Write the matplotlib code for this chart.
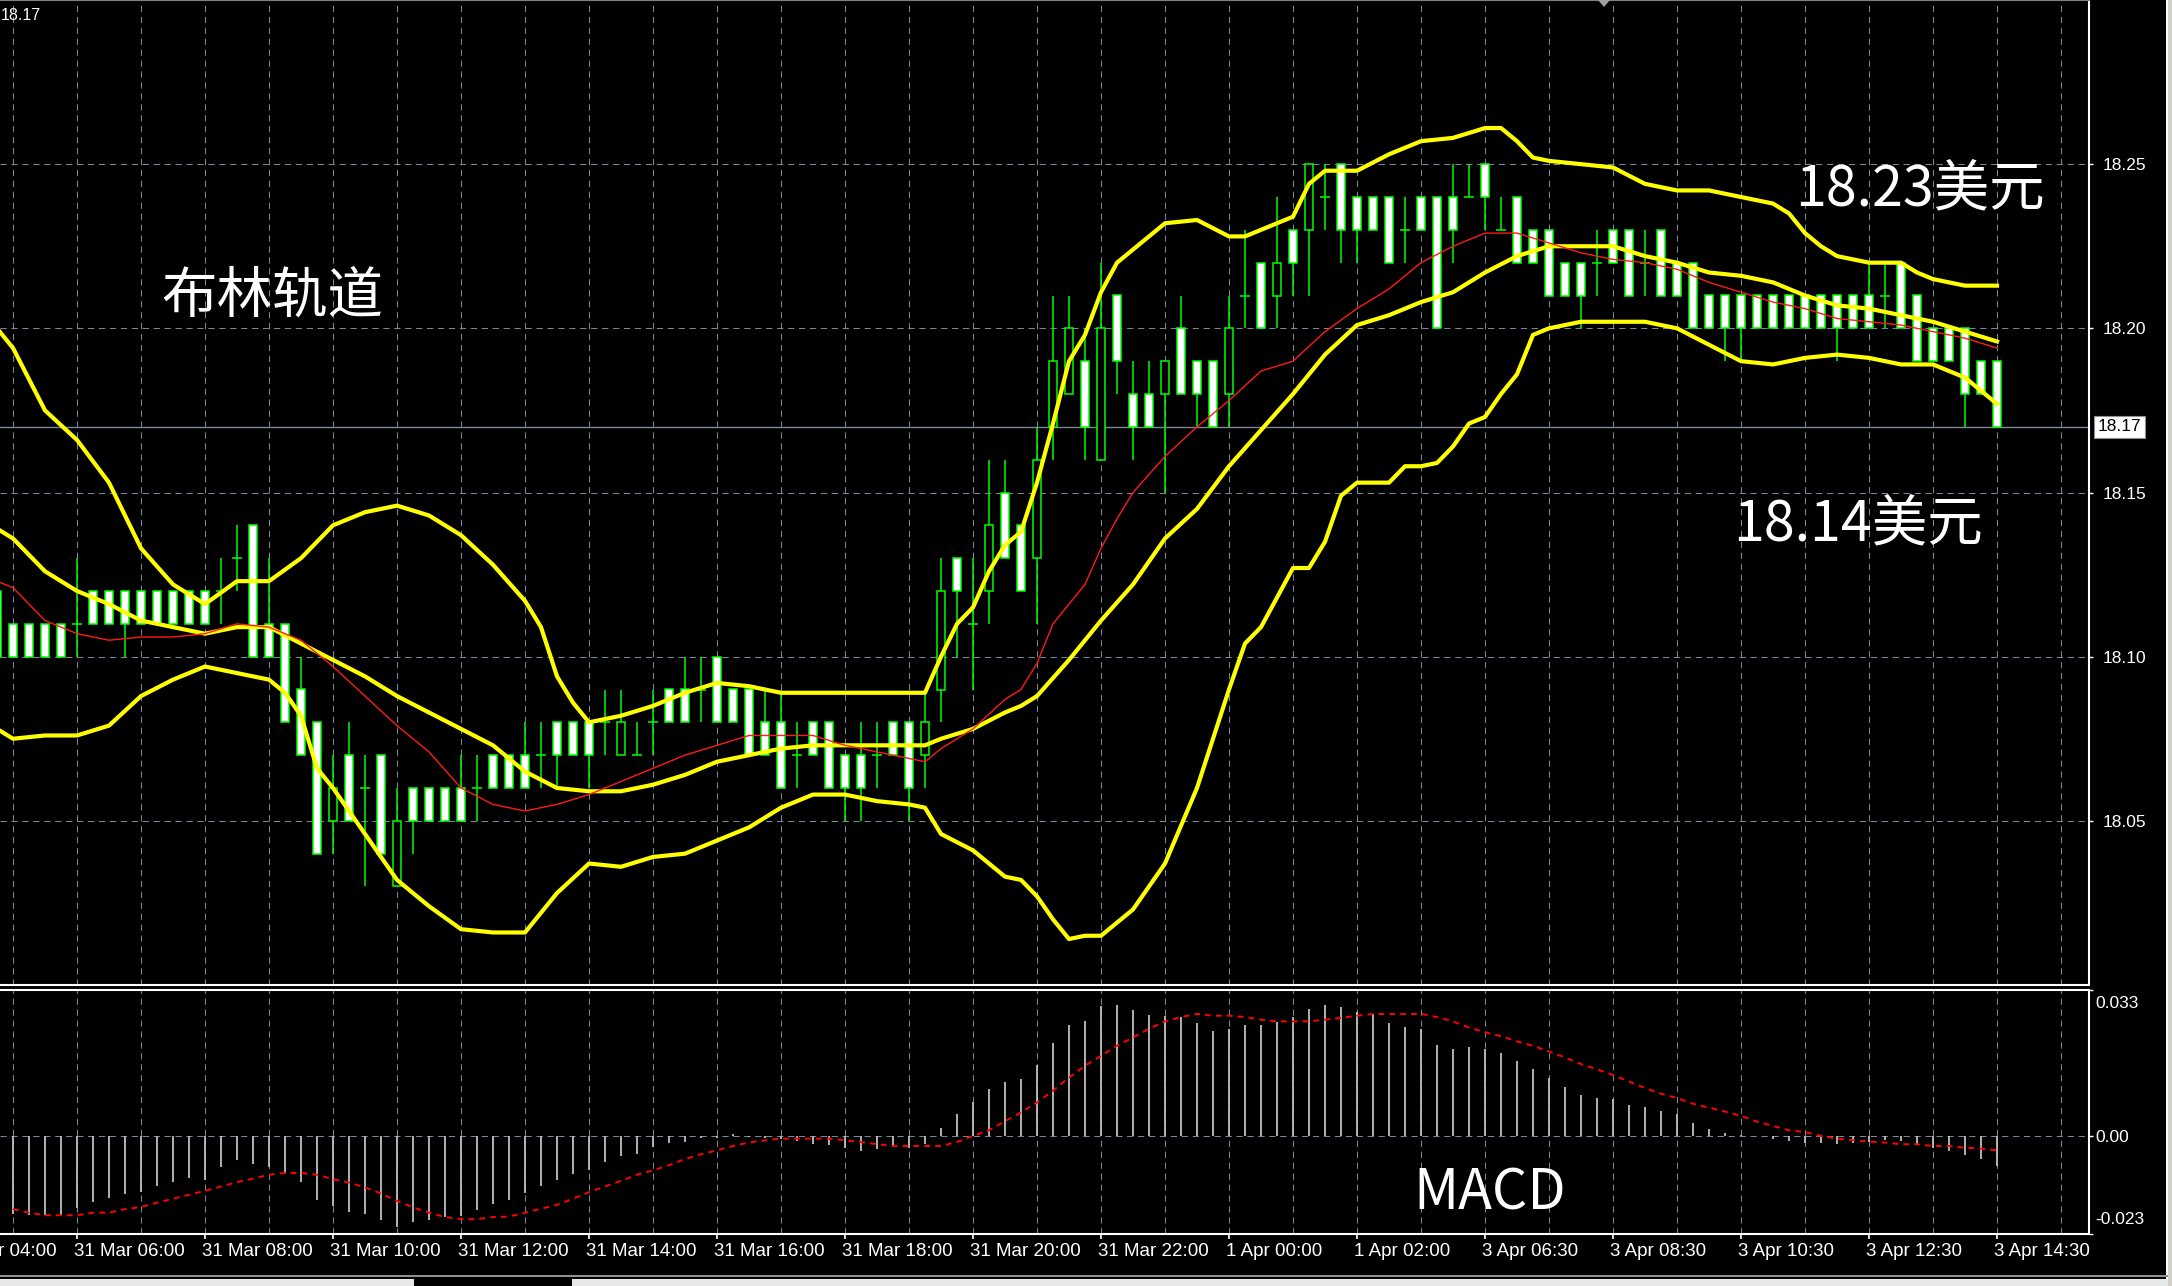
import numpy as np
import matplotlib.pyplot as plt
from matplotlib.patches import Rectangle, Polygon

# ---------------- data (15 min bars) ----------------
first_bar = -1  # index of the first (partly hidden) bar

opens = [
    18.12, 18.11, 18.11, 18.11, 18.11, 18.11, 18.12, 18.12, 18.12, 18.12,   # -1..8
    18.12, 18.12, 18.12, 18.12, 18.12, 18.13, 18.14, 18.11, 18.11, 18.09,   # 9..18
    18.08, 18.05, 18.07, 18.06, 18.07, 18.03, 18.06, 18.06, 18.06, 18.06,   # 19..28
    18.06, 18.07, 18.07, 18.07, 18.07, 18.08, 18.08, 18.08, 18.08, 18.07,   # 29..38
    18.07, 18.08, 18.09, 18.09, 18.09, 18.10, 18.09, 18.09, 18.08, 18.08,   # 39..48
    18.07, 18.08, 18.08, 18.07, 18.07, 18.07, 18.08, 18.08, 18.07, 18.09,   # 49..58
    18.13, 18.11, 18.12, 18.15, 18.14, 18.13, 18.17, 18.18, 18.19, 18.16,   # 59..68
    18.21, 18.18, 18.18, 18.18, 18.20, 18.19, 18.19, 18.18, 18.21, 18.22,   # 69..78
    18.21, 18.23, 18.23, 18.24, 18.25, 18.24, 18.24, 18.24, 18.23, 18.24,   # 79..88
    18.24, 18.24, 18.24, 18.25, 18.23, 18.24, 18.23, 18.23, 18.22, 18.22,   # 89..98
    18.22, 18.23, 18.23, 18.22, 18.23, 18.22, 18.22, 18.21, 18.21, 18.21,   # 99..108
    18.21, 18.21, 18.21, 18.21, 18.21, 18.21, 18.21, 18.21, 18.21, 18.22,   # 109..118
    18.21, 18.20, 18.20, 18.20, 18.19, 18.19,                               # 119..124
]
highs = [
    18.12, 18.11, 18.11, 18.11, 18.11, 18.13, 18.12, 18.12, 18.12, 18.12,
    18.12, 18.12, 18.12, 18.12, 18.13, 18.14, 18.14, 18.13, 18.11, 18.10,
    18.08, 18.07, 18.08, 18.07, 18.07, 18.06, 18.06, 18.06, 18.06, 18.07,
    18.07, 18.07, 18.07, 18.08, 18.08, 18.08, 18.08, 18.08, 18.09, 18.09,
    18.08, 18.09, 18.09, 18.10, 18.10, 18.10, 18.09, 18.09, 18.09, 18.09,
    18.08, 18.08, 18.08, 18.07, 18.08, 18.08, 18.08, 18.08, 18.09, 18.13,
    18.13, 18.13, 18.16, 18.16, 18.14, 18.17, 18.21, 18.21, 18.20, 18.22,
    18.21, 18.19, 18.19, 18.19, 18.21, 18.19, 18.19, 18.21, 18.23, 18.22,
    18.24, 18.23, 18.25, 18.25, 18.25, 18.24, 18.24, 18.24, 18.24, 18.24,
    18.24, 18.25, 18.25, 18.25, 18.24, 18.24, 18.23, 18.23, 18.22, 18.22,
    18.23, 18.23, 18.23, 18.23, 18.23, 18.22, 18.22, 18.21, 18.21, 18.21,
    18.21, 18.21, 18.21, 18.21, 18.21, 18.21, 18.21, 18.22, 18.22, 18.22,
    18.21, 18.20, 18.20, 18.20, 18.19, 18.19,
]
lows = [
    18.10, 18.10, 18.10, 18.10, 18.10, 18.10, 18.11, 18.11, 18.10, 18.11,
    18.11, 18.11, 18.11, 18.11, 18.11, 18.12, 18.10, 18.10, 18.08, 18.07,
    18.04, 18.04, 18.05, 18.03, 18.04, 18.03, 18.04, 18.05, 18.05, 18.05,
    18.05, 18.06, 18.06, 18.06, 18.06, 18.06, 18.07, 18.06, 18.07, 18.07,
    18.07, 18.07, 18.08, 18.08, 18.08, 18.08, 18.08, 18.07, 18.07, 18.06,
    18.06, 18.07, 18.06, 18.05, 18.05, 18.06, 18.07, 18.05, 18.06, 18.08,
    18.10, 18.09, 18.11, 18.13, 18.12, 18.11, 18.16, 18.18, 18.16, 18.16,
    18.18, 18.16, 18.17, 18.15, 18.18, 18.17, 18.17, 18.17, 18.20, 18.20,
    18.20, 18.21, 18.21, 18.23, 18.22, 18.22, 18.23, 18.22, 18.22, 18.23,
    18.20, 18.22, 18.24, 18.23, 18.23, 18.22, 18.22, 18.21, 18.21, 18.20,
    18.21, 18.22, 18.21, 18.21, 18.21, 18.21, 18.20, 18.20, 18.19, 18.19,
    18.20, 18.20, 18.20, 18.20, 18.20, 18.19, 18.20, 18.20, 18.20, 18.20,
    18.19, 18.19, 18.19, 18.17, 18.18, 18.17,
]
closes = [
    18.10, 18.10, 18.10, 18.10, 18.10, 18.11, 18.11, 18.11, 18.11, 18.11,
    18.11, 18.11, 18.11, 18.11, 18.12, 18.13, 18.10, 18.10, 18.08, 18.07,
    18.04, 18.06, 18.05, 18.06, 18.04, 18.05, 18.05, 18.05, 18.05, 18.05,
    18.06, 18.06, 18.06, 18.06, 18.07, 18.07, 18.07, 18.07, 18.08, 18.08,
    18.07, 18.08, 18.08, 18.08, 18.09, 18.08, 18.08, 18.07, 18.07, 18.06,
    18.07, 18.07, 18.06, 18.06, 18.06, 18.07, 18.07, 18.06, 18.08, 18.12,
    18.12, 18.11, 18.14, 18.13, 18.12, 18.16, 18.19, 18.20, 18.17, 18.20,
    18.19, 18.17, 18.17, 18.19, 18.18, 18.18, 18.17, 18.20, 18.21, 18.20,
    18.22, 18.22, 18.25, 18.24, 18.23, 18.23, 18.23, 18.22, 18.23, 18.23,
    18.20, 18.23, 18.24, 18.24, 18.23, 18.22, 18.22, 18.21, 18.21, 18.21,
    18.22, 18.22, 18.21, 18.22, 18.21, 18.21, 18.20, 18.20, 18.20, 18.20,
    18.20, 18.20, 18.20, 18.20, 18.20, 18.20, 18.20, 18.20, 18.21, 18.20,
    18.19, 18.19, 18.19, 18.18, 18.18, 18.17,
]

# Bollinger bands and red moving average, sampled (bar index, price)
bb_upper = [(-1, 18.200), (0, 18.194), (2, 18.175), (4, 18.166), (6, 18.153), (8, 18.133),
            (10, 18.122), (12, 18.116), (14, 18.123), (16, 18.123), (18, 18.130), (20, 18.140),
            (22, 18.144), (24, 18.146), (26, 18.143), (28, 18.137), (30, 18.128), (32, 18.117),
            (33, 18.109), (34, 18.094), (35, 18.086), (36, 18.080), (38, 18.082), (40, 18.085),
            (42, 18.089), (44, 18.092), (46, 18.091), (48, 18.089), (50, 18.089), (52, 18.089),
            (54, 18.089), (57, 18.089), (58, 18.100), (59, 18.110), (60, 18.115), (61, 18.126),
            (62, 18.134), (63, 18.138), (64, 18.153), (65, 18.171), (66, 18.190), (67, 18.198),
            (68, 18.211), (69, 18.220), (70, 18.224), (72, 18.232), (74, 18.233), (76, 18.228),
            (77, 18.228), (78, 18.230), (80, 18.234), (81, 18.244), (82, 18.248), (84, 18.248),
            (86, 18.253), (88, 18.257), (90, 18.258), (92, 18.261), (93, 18.261), (94, 18.257),
            (95, 18.252), (96, 18.251), (98, 18.250), (100, 18.249), (102, 18.244), (104, 18.242),
            (106, 18.242), (108, 18.240), (110, 18.238), (111, 18.235), (112, 18.229), (113, 18.225),
            (114, 18.222), (116, 18.220), (118, 18.220), (119, 18.217), (120, 18.215), (122, 18.213),
            (124, 18.213)]
bb_middle = [(-1, 18.139), (0, 18.136), (2, 18.126), (4, 18.120), (6, 18.116), (8, 18.111),
             (10, 18.109), (12, 18.107), (14, 18.109), (16, 18.109), (18, 18.104), (20, 18.099),
             (22, 18.094), (24, 18.088), (26, 18.083), (28, 18.078), (30, 18.073), (32, 18.065),
             (34, 18.060), (36, 18.059), (38, 18.059), (40, 18.061), (42, 18.064), (44, 18.068),
             (46, 18.070), (48, 18.072), (50, 18.073), (52, 18.073), (54, 18.073), (57, 18.073),
             (58, 18.075), (60, 18.078), (62, 18.083), (63, 18.085), (64, 18.088), (66, 18.099),
             (68, 18.111), (70, 18.122), (72, 18.136), (74, 18.145), (76, 18.158), (78, 18.169),
             (80, 18.180), (82, 18.192), (84, 18.201), (86, 18.204), (88, 18.208), (90, 18.211),
             (92, 18.217), (94, 18.222), (96, 18.225), (98, 18.225), (100, 18.225), (102, 18.222),
             (104, 18.220), (106, 18.217), (108, 18.216), (110, 18.214), (112, 18.210), (114, 18.207),
             (116, 18.206), (118, 18.204), (120, 18.202), (122, 18.199), (124, 18.196)]
bb_lower = [(-1, 18.078), (0, 18.075), (2, 18.076), (4, 18.076), (6, 18.079), (8, 18.088),
            (10, 18.093), (12, 18.097), (14, 18.095), (16, 18.093), (17, 18.089), (18, 18.082),
            (19, 18.066), (20, 18.060), (22, 18.046), (24, 18.032), (26, 18.024), (28, 18.017),
            (30, 18.016), (32, 18.016), (33, 18.022), (34, 18.028), (36, 18.037), (38, 18.036),
            (40, 18.039), (42, 18.040), (44, 18.044), (46, 18.048), (48, 18.054), (50, 18.058),
            (52, 18.058), (54, 18.056), (56, 18.055), (57, 18.054), (58, 18.046), (60, 18.041),
            (62, 18.033), (63, 18.032), (64, 18.027), (65, 18.020), (66, 18.014), (67, 18.015),
            (68, 18.015), (70, 18.023), (72, 18.037), (74, 18.060), (76, 18.090), (77, 18.104),
            (78, 18.109), (80, 18.127), (81, 18.127), (82, 18.135), (83, 18.149), (84, 18.153),
            (86, 18.153), (87, 18.158), (88, 18.158), (89, 18.159), (90, 18.164), (91, 18.171),
            (92, 18.173), (93, 18.180), (94, 18.186), (95, 18.198), (96, 18.200), (98, 18.202),
            (100, 18.202), (102, 18.202), (104, 18.200), (106, 18.195), (108, 18.190), (110, 18.189),
            (112, 18.191), (114, 18.192), (116, 18.191), (118, 18.189), (120, 18.189), (122, 18.185),
            (123, 18.181), (124, 18.177)]
red_ma = [(-1, 18.123), (0, 18.121), (2, 18.111), (4, 18.107), (6, 18.105), (8, 18.106),
          (10, 18.106), (12, 18.107), (14, 18.110), (16, 18.109), (18, 18.105), (20, 18.097),
          (22, 18.088), (24, 18.079), (26, 18.071), (28, 18.060), (30, 18.055), (32, 18.053),
          (34, 18.055), (36, 18.058), (38, 18.062), (40, 18.066), (42, 18.070), (44, 18.073),
          (46, 18.076), (48, 18.076), (50, 18.076), (52, 18.073), (54, 18.071), (56, 18.069),
          (57, 18.068), (58, 18.072), (60, 18.078), (62, 18.087), (63, 18.090), (64, 18.098),
          (65, 18.110), (66, 18.116), (67, 18.122), (68, 18.133), (69, 18.142), (70, 18.150),
          (72, 18.161), (74, 18.170), (76, 18.178), (78, 18.187), (80, 18.190), (82, 18.199),
          (84, 18.206), (86, 18.212), (88, 18.220), (90, 18.225), (92, 18.229), (94, 18.229),
          (96, 18.226), (98, 18.223), (100, 18.221), (102, 18.220), (104, 18.218), (106, 18.214),
          (108, 18.211), (110, 18.208), (112, 18.206), (114, 18.203), (116, 18.202), (118, 18.201),
          (120, 18.199), (122, 18.197), (124, 18.194)]

# MACD histogram and signal, bars 0..124
macd_hist = [
    -0.0177, -0.0180, -0.0180, -0.0180, -0.0165, -0.0150, -0.0142, -0.0132, -0.0127, -0.0114,
    -0.0104, -0.0096, -0.0100, -0.0071, -0.0054, -0.0063, -0.0071, -0.0084, -0.0104, -0.0146,
    -0.0160, -0.0173, -0.0179, -0.0192, -0.0207, -0.0196, -0.0192, -0.0186, -0.0183, -0.0169,
    -0.0155, -0.0146, -0.0131, -0.0114, -0.0100, -0.0086, -0.0077, -0.0058, -0.0045, -0.0040,
    -0.0025, -0.0015, -0.0012, -0.0003, -0.0003, 0.0006, -0.0002, -0.0004, -0.0007, -0.0011,
    -0.0017, -0.0020, -0.0026, -0.0034, -0.0030, -0.0025, -0.0026, -0.0017, 0.0020, 0.0052,
    0.0080, 0.0108, 0.0126, 0.0131, 0.0164, 0.0214, 0.0256, 0.0266, 0.0300, 0.0302,
    0.0289, 0.0279, 0.0277, 0.0274, 0.0260, 0.0243, 0.0247, 0.0256, 0.0256, 0.0262,
    0.0274, 0.0293, 0.0302, 0.0298, 0.0285, 0.0281, 0.0260, 0.0252, 0.0247, 0.0210,
    0.0201, 0.0206, 0.0201, 0.0191, 0.0172, 0.0154, 0.0135, 0.0114, 0.0095, 0.0088,
    0.0085, 0.0072, 0.0068, 0.0058, 0.0052, 0.0030, 0.0016, 0.0007, 0.0003, 0.0000,
    -0.0007, -0.0011, -0.0015, -0.0015, -0.0017, -0.0015, -0.0012, -0.0009, -0.0011, -0.0017,
    -0.0026, -0.0034, -0.0043, -0.0053, -0.0068,
]
macd_signal = [
    -0.0167, -0.0175, -0.0181, -0.0181, -0.0181, -0.0175, -0.0175, -0.0167, -0.0162, -0.0152,
    -0.0143, -0.0134, -0.0125, -0.0115, -0.0105, -0.0097, -0.0088, -0.0084, -0.0084, -0.0088,
    -0.0098, -0.0106, -0.0117, -0.0131, -0.0148, -0.0163, -0.0175, -0.0185, -0.0190, -0.0190,
    -0.0185, -0.0184, -0.0175, -0.0166, -0.0157, -0.0143, -0.0128, -0.0115, -0.0102, -0.0088,
    -0.0078, -0.0066, -0.0052, -0.0041, -0.0032, -0.0022, -0.0014, -0.0009, -0.0005, -0.0005,
    -0.0005, -0.0005, -0.0009, -0.0013, -0.0018, -0.0022, -0.0022, -0.0022, -0.0022, -0.0013,
    0.0001, 0.0014, 0.0035, 0.0055, 0.0078, 0.0105, 0.0135, 0.0162, 0.0185, 0.0208,
    0.0227, 0.0247, 0.0264, 0.0274, 0.0281, 0.0277, 0.0277, 0.0274, 0.0268, 0.0264,
    0.0264, 0.0264, 0.0268, 0.0272, 0.0277, 0.0281, 0.0281, 0.0281, 0.0281, 0.0274,
    0.0264, 0.0250, 0.0239, 0.0230, 0.0218, 0.0208, 0.0195, 0.0181, 0.0166, 0.0154,
    0.0141, 0.0126, 0.0111, 0.0098, 0.0088, 0.0075, 0.0066, 0.0057, 0.0047, 0.0034,
    0.0024, 0.0014, 0.0010, 0.0001, -0.0005, -0.0009, -0.0012, -0.0014, -0.0018, -0.0018,
    -0.0022, -0.0022, -0.0026, -0.0028, -0.0032,
]

price_ticks = [18.05, 18.10, 18.15, 18.20, 18.25]
date_ticks = list(range(-4, 125, 8))
date_labels = ["31 Mar 04:00", "31 Mar 06:00", "31 Mar 08:00", "31 Mar 10:00", "31 Mar 12:00",
               "31 Mar 14:00", "31 Mar 16:00", "31 Mar 18:00", "31 Mar 20:00", "31 Mar 22:00",
               "1 Apr 00:00", "1 Apr 02:00", "3 Apr 06:30", "3 Apr 08:30", "3 Apr 10:30",
               "3 Apr 12:30", "3 Apr 14:30"]

# ---------------- styling ----------------
W, H = 2172, 1286
LIME = '#00ff00'
GRID = '#778899'
small_font = ['Liberation Sans', 'DejaVu Sans']
big_font = ['Noto Sans CJK SC', 'DejaVu Sans']
grid_kw = dict(color=GRID, lw=0.75, ls=(0, (6, 4.5)))

fig = plt.figure(figsize=(W / 100, H / 100), dpi=100, facecolor='black')
ax = fig.add_axes([0, 1 - 985 / H, 2089 / W, 985 / H], facecolor='black')
ax2 = fig.add_axes([0, 1 - 1234 / H, 2089 / W, 244 / H], facecolor='black')

xlim = (-13 / 16, (2089 - 13) / 16)

# ---- main panel ----
bar_x = np.arange(len(opens)) + first_bar
for x, o, h, l, c in zip(bar_x, opens, highs, lows, closes):
    ax.vlines(x, l, h, color=LIME, lw=1.1, zorder=2)
    if o == c:
        ax.hlines(o, x - 0.29, x + 0.29, color=LIME, lw=1.1, zorder=3)
    else:
        face = 'white' if c < o else 'black'
        ax.add_patch(Rectangle((x - 0.25, min(o, c)), 0.5, abs(c - o),
                               fc=face, ec=LIME, lw=1.1, zorder=3))

for band in (bb_upper, bb_middle, bb_lower):
    bx, by = zip(*band)
    ax.plot(bx, by, color='#ffff00', lw=3.0, zorder=5, solid_joinstyle='round')
rx, ry = zip(*red_ma)
ax.plot(rx, ry, color='#ff1a1a', lw=1.0, zorder=6)

last = closes[-1]
ax.axhline(last, color=GRID, lw=1.0, zorder=1)

ax.set_xticks(np.arange(0, 130, 4))
ax.tick_params(axis='x', length=0, labelbottom=False)
ax.yaxis.tick_right()
ax.set_yticks(price_ticks)
ax.set_yticklabels([f'{p:.2f}' for p in price_ticks])
ax.tick_params(axis='y', colors='white', length=3, width=1, pad=7, labelsize=12.5,
               labelfontfamily=small_font)
ax.set_xlim(*xlim)
ax.set_ylim(18.0, 18.3)
ax.grid(True, **grid_kw)
ax.set_axisbelow(True)
ax.spines['left'].set_visible(False)
ax.spines['top'].set_color('#808080')
ax.spines['right'].set_color('white')
ax.spines['bottom'].set_color('white')
ax.spines['right'].set_linewidth(1.5)
ax.spines['bottom'].set_linewidth(1.5)

ax.annotate(f'{last:.2f}', xy=(1, last), xycoords=('axes fraction', 'data'),
            xytext=(9, 0), textcoords='offset pixels', ha='left', va='center',
            color='black', fontsize=12.5, family=small_font, annotation_clip=False,
            bbox=dict(boxstyle='square,pad=0.22', fc='white', ec='#909090', lw=0.8))

ax.text(0.1302, 0.6985, '布林轨道', transform=ax.transAxes, ha='center', va='center',
        color='white', fontsize=40, family=big_font)
ax.text(0.9189, 0.8072, f'{18.23:.2f}美元', transform=ax.transAxes, ha='center', va='center',
        color='white', fontsize=40, family=big_font)
ax.text(0.8892, 0.4671, f'{18.14:.2f}美元', transform=ax.transAxes, ha='center', va='center',
        color='white', fontsize=40, family=big_font)

# ---- MACD panel ----
mx = np.arange(len(macd_hist))
ax2.vlines(mx, 0, macd_hist, color='#c0c0c0', lw=1.3, zorder=3)
ax2.plot(mx, macd_signal, color='#ff0000', lw=1.4, ls=(0, (3, 2.6)), zorder=4)

ax2.set_xticks(date_ticks)
ax2.set_xticks(np.arange(0, 130, 8), minor=True)
ax2.tick_params(axis='x', which='major', colors='white', length=3.6, width=1.2, labelbottom=False)
ax2.tick_params(axis='x', which='minor', length=0)
ax2.xaxis.grid(True, which='both', **grid_kw)
ax2.yaxis.tick_right()
ax2.set_yticks([0.0])
ax2.set_yticklabels(['0.00'])
ax2.set_yticks([-0.0224, 0.0336], minor=True)
ax2.tick_params(axis='y', which='both', colors='white', length=3, width=1, pad=1.5,
                labelsize=12.5, labelfontfamily=small_font)
ax2.set_xlim(*xlim)
ax2.set_ylim(-0.0224, 0.0336)
ax2.yaxis.grid(True, which='major', **grid_kw)
ax2.set_axisbelow(True)
ax2.spines['left'].set_visible(False)
for side in ('top', 'right', 'bottom'):
    ax2.spines[side].set_color('white')
    ax2.spines[side].set_linewidth(1.5)

ax2.annotate('0.033', xy=(1, 1), xycoords='axes fraction', xytext=(6, -14),
             textcoords='offset pixels', ha='left', va='center', color='white',
             fontsize=12.5, family=small_font, annotation_clip=False)
ax2.annotate('-0.023', xy=(1, 0), xycoords='axes fraction', xytext=(6, 14),
             textcoords='offset pixels', ha='left', va='center', color='white',
             fontsize=12.5, family=small_font, annotation_clip=False)

for pos, lab in zip(date_ticks, date_labels):
    ax2.annotate(lab, xy=(pos, 0), xycoords=('data', 'axes fraction'), xytext=(-3, -18),
                 textcoords='offset pixels', ha='left', va='center', color='white',
                 fontsize=13.5, family=small_font, annotation_clip=False)

ax2.text(0.7133, 0.1650, 'MACD', transform=ax2.transAxes, ha='center', va='center',
         color='white', fontsize=40, family=big_font)

# top-left price and window decorations
fig.text(1 / W, 1 - 15 / H, f'{last:.2f}', color='white', fontsize=11.5, family=small_font,
         ha='left', va='center')
fig.patches.append(Polygon([(1598 / W, 1.0), (1610 / W, 1.0), (1604 / W, 1 - 7 / H)],
                           closed=True, fc='#a0a0a0', ec='none', transform=fig.transFigure))
fig.patches.append(Rectangle((2166 / W, 0), 2 / W, 1, fc='white', ec='none',
                             transform=fig.transFigure))
fig.patches.append(Rectangle((2168 / W, 0), 4 / W, 1, fc='#d4d0c8', ec='none',
                             transform=fig.transFigure))
fig.patches.append(Rectangle((0, 9 / H), 2168 / W, 2 / H, fc='#909090', ec='none',
                             transform=fig.transFigure))
fig.patches.append(Rectangle((0, 0), 2168 / W, 7 / H, fc='#e8e8e8', ec='none',
                             transform=fig.transFigure))
fig.patches.append(Rectangle((414 / W, 0), 158 / W, 7 / H, fc='black', ec='none',
                             transform=fig.transFigure))

fig.savefig('out.png', dpi=100, facecolor='black')
